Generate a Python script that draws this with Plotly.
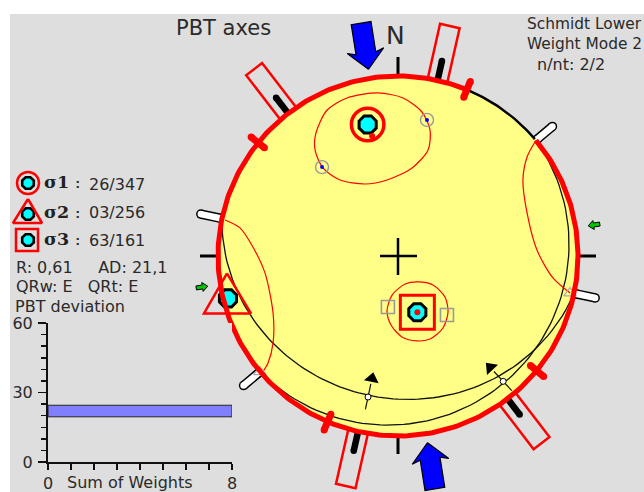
import numpy as np
import plotly.graph_objects as go

W, H = 644, 492
CX, CY, R = 398.0, 256.0, 180.0

# stress axes (trend / plunge)
axis_names = ["σ1", "σ2", "σ3"]
axis_trend = [347, 256, 161]
axis_plunge = [26, 3, 63]
axis_labels = ["26/347", "03/256", "63/161"]

# fault planes (dip direction / dip) and their slip lineations
fault_dipdir = [192, 140]
fault_dip = [22, 9]
lin_trend = [192, 140]
lin_plunge = [21, 10]
slip_az = [12, 317]

# perimeter symbols (azimuths)
strike_az = [282, 102, 50, 230]
shmax_az = [12.7, 322.4, 142.5, 192.8]
plane_tick_az = [22.5, 309, 129.6, 203]
compress_az = [351, 171]
extend_az = [81, 261]
black_arc_az = [22.5, 50]

# individual P, T, B axes, in net units (east, north)
p_e = [-0.422, 0.161]; p_n = [0.494, 0.756]
t_e = [-0.056, 0.272]; t_n = [-0.283, -0.328]
b_e = [0.956, -0.767]; b_n = [-0.206, -0.644]

# confidence contours in net units (east, north)
s1_e = [-.111, .028, .133, .178, .167, .078, -.061, -.183, -.322, -.417, -.461, -.456, -.394, -.283, -.111]
s1_n = [.906, .878, .80, .70, .589, .489, .422, .40, .422, .489, .589, .683, .811, .878, .906]
s3_e = [-.061, -.033, .039, .111, .194, .261, .278, .25, .178, .106, .022, -.039, -.061]
s3_n = [-.306, -.217, -.156, -.144, -.161, -.228, -.311, -.40, -.461, -.472, -.45, -.383, -.306]
s2a_e = [-.961, -.878, -.806, -.739, -.694, -.694, -.722, -.756]
s2a_n = [.20, .156, .05, -.094, -.317, -.483, -.594, -.65]
s2b_e = [.761, .717, .694, .717, .772, .861, .956]
s2b_n = [.633, .55, .422, .239, .033, -.122, -.206]
s1_mean_e = [-0.144]; s1_mean_n = [0.667]

# PBT deviation histogram
dev_center = [22]
dev_width = [5]
dev_weight = [8]

GRAY = "#dedede"; YEL = "#ffff88"; RED = "#ff0000"; CYAN = "#00ffff"; INK = "#2a2a2a"
FONT = "DejaVu Sans"


def proj(trend, plunge):
    t = np.radians(np.asarray(trend, float)); p = np.radians(np.asarray(plunge, float))
    r = np.sqrt(2) * np.sin((np.pi / 2 - p) / 2)
    return r * np.sin(t), r * np.cos(t)


def polar(az, r):
    a = np.radians(np.asarray(az, float))
    return np.asarray(r) * np.sin(a), np.asarray(r) * np.cos(a)


def nx(px):
    return (np.asarray(px, float) - CX) / R


def ny(py):
    return (CY - np.asarray(py, float)) / R


fig = go.Figure()


def line(x, y, color="black", width=1.0, shape="linear", smoothing=None):
    fig.add_trace(go.Scatter(x=x, y=y, mode="lines",
                             line=dict(color=color, width=width, shape=shape, smoothing=smoothing),
                             hoverinfo="skip", showlegend=False))


def poly(x, y, fill, color, width):
    fig.add_trace(go.Scatter(x=x, y=y, mode="lines", fill="toself", fillcolor=fill,
                             line=dict(color=color, width=width), hoverinfo="skip", showlegend=False))


def pts(x, y, symbol, size, color, lw=0, lc=None, angle=0):
    fig.add_trace(go.Scatter(x=x, y=y, mode="markers", hoverinfo="skip", showlegend=False,
                             marker=dict(symbol=symbol, size=size, color=color, angle=angle,
                                         line=dict(width=lw, color=lc or color))))


def rounded(az, r0, r1, color, width):
    x, y = polar([az, az], [r0, r1])
    fig.add_trace(go.Scatter(x=x, y=y, mode="lines+markers", line=dict(color=color, width=width),
                             marker=dict(size=width, color=color, symbol="circle"),
                             hoverinfo="skip", showlegend=False))


def radial_poly(az, rows, fill, color, width):
    """rows: (radius, signed half width in px)"""
    a = np.radians(az)
    u = np.array([np.sin(a), np.cos(a)]); v = np.array([np.cos(a), -np.sin(a)])
    xs = [u[0] * r + v[0] * w / R for r, w in rows]
    ys = [u[1] * r + v[1] * w / R for r, w in rows]
    poly(xs + xs[:1], ys + ys[:1], fill, color, width)


def tick(px0, py0, px1, py1, width=3):
    line([nx(px0), nx(px1)], [ny(py0), ny(py1)], "black", width)


# ---- elements outside the net ----
for az in shmax_az:
    radial_poly(az, [(1.0, -10), (1.31, -10), (1.31, 10), (1.0, 10)], "rgba(0,0,0,0)", RED, 2.5)
    rounded(az, 1.0, 1.11, "black", 6.5)
for az in strike_az:
    rounded(az, 1.01, 1.12, "black", 9.5)
    rounded(az, 1.01, 1.12, "white", 6.5)
tick(398, 57, 398, 76); tick(398, 437, 398, 454); tick(200, 256, 219, 256); tick(579, 256, 596, 256)
for az in compress_az:
    radial_poly(az, [(1.05, 0), (1.155, -18.5), (1.14, -10), (1.31, -10), (1.31, 10), (1.14, 10), (1.155, 18.5)],
                "#0000ff", "black", 1.2)
for az in extend_az:
    radial_poly(az, [(1.07, 0), (1.10, -4.5), (1.10, -2), (1.135, -2), (1.135, 2), (1.10, 2), (1.10, 4.5)],
                "#00c800", "black", 1)

# ---- the net ----
az_all = np.arange(0, 361, 1.0)
dx, dy = polar(az_all, 1.0)
poly(dx, dy, YEL, YEL, 0.5)

for dd, dip in zip(fault_dipdir, fault_dip):
    beta = np.arange(-90, 90.5, 2.0)
    pl = np.degrees(np.arctan(np.tan(np.radians(dip)) * np.cos(np.radians(beta))))
    gx, gy = proj(dd + beta, pl)
    line(gx, gy, "#111111", 1.3)

line(s1_e, s1_n, RED, 1.2, "spline", 0.8)
line(s3_e, s3_n, RED, 1.2, "spline", 0.8)
line(s2a_e, s2a_n, RED, 1.2, "spline", 0.8)
line(s2b_e, s2b_n, RED, 1.2, "spline", 0.8)

pts(p_e, p_n, "circle-open", 13, "#999999", 1.4)
pts(p_e, p_n, "circle", 4, "#0000ff")
pts(t_e, t_n, "square-open", 13, "#999999", 1.6)
pts(b_e, b_n, "triangle-up-open", 11, "#aaaaaa", 1.2)

# slip arrows on the lineations
lx, ly = proj(lin_trend, lin_plunge)
for x0, y0, az in zip(lx, ly, slip_az):
    ax, ay = polar(az, 1.0)
    line([x0 - 0.07 * ax, x0 + 0.075 * ax], [y0 - 0.07 * ay, y0 + 0.075 * ay], "#111111", 1.2)
    pts([x0 + 0.105 * ax], [y0 + 0.105 * ay], "triangle-up", 13, "black", angle=az)
pts(lx, ly, "circle", 6, "white", 1, "black")

# stress axes
sx, sy = proj(axis_trend, axis_plunge)
pts(sx, sy, "octagon", 18.5, CYAN, 3, "black")
pts(sx[:1], sy[:1], "circle-open", 32.5, RED, 3.5)
pts(sx[2:], sy[2:], "square-open", 34, RED, 3)
poly([sx[1] + nx(228) - nx(229), sx[1] + nx(205) - nx(229), sx[1] + nx(252) - nx(229), sx[1] + nx(228) - nx(229)],
     [sy[1] + ny(273) - ny(298), sy[1] + ny(313) - ny(298), sy[1] + ny(313) - ny(298), sy[1] + ny(273) - ny(298)],
     "rgba(0,0,0,0)", RED, 2.5)
pts(s1_mean_e, s1_mean_n, "circle", 6, RED)
pts(sx[2:], sy[2:], "circle", 6, RED)

# rim
rim_az = np.arange(black_arc_az[1], black_arc_az[0] + 360.5, 1.0)
rx, ry = polar(rim_az, 1.0)
line(rx, ry, RED, 5)
arc_az = np.arange(black_arc_az[0], black_arc_az[1] + 0.5, 1.0)
ax_, ay_ = polar(arc_az, 1.0)
line(ax_, ay_, "black", 2.5)
for az in plane_tick_az:
    rounded(az, 0.955, 1.05, RED, 7)

# centre cross
tick(380, 256, 417, 256, 2.5); tick(398, 238, 398, 275, 2.5)

# ---- legend glyphs ----
lg_y = [183, 214, 240]
pts(nx([28, 28, 28]), ny(lg_y), "octagon", 12.5, CYAN, 2.6, "black")
pts(nx([28]), ny([183]), "circle-open", 22, RED, 2.5)
poly(nx([28, 13, 42, 28]), ny([199, 223, 223, 199]), "rgba(0,0,0,0)", RED, 2.5)
pts(nx([27]), ny([240]), "square-open", 22, RED, 2.5)

# ---- histogram ----
fig.add_trace(go.Bar(y=dev_center, x=dev_weight, width=dev_width, orientation="h", xaxis="x2", yaxis="y2",
                     marker=dict(color="#8080ff", line=dict(color="#222222", width=1)),
                     hoverinfo="skip", showlegend=False))


def note(x, y, s, size=16, family=FONT, anchor="left", color=INK):
    fig.add_annotation(x=x / W, y=1 - y / H, xref="paper", yref="paper", text=s, showarrow=False,
                       xanchor=anchor, yanchor="middle", borderpad=0, borderwidth=0,
                       font=dict(size=size, family=family, color=color))


note(176, 28, "PBT axes", 21)
note(386, 35, "N", 25)
note(527, 24, "Schmidt Lower", 15.4)
note(527, 44, "Weight Mode 2", 15.4)
note(537, 64, "n/nt: 2/2")
for name, lab, y0, y1 in zip(axis_names, axis_labels, [182, 212, 239], [184, 213, 240]):
    note(44, y0, "<b>%s</b> :" % name, 17.5, "DejaVu Serif", color="#222222")
    note(89, y1, lab)
note(16, 267, "R: 0,61     AD: 21,1")
note(16, 286, "QRw: E   QRt: E")
note(15, 306, "PBT deviation")
note(129.5, 482, "Sum of Weights", anchor="center")

fig.update_layout(
    width=W, height=H, margin=dict(l=0, r=0, t=0, b=0, pad=0, autoexpand=False), autosize=False,
    paper_bgcolor="white", plot_bgcolor=GRAY, showlegend=False,
    xaxis=dict(domain=[10 / W, 1], range=[(10 - CX) / R, (W - CX) / R], visible=False, automargin=False),
    yaxis=dict(domain=[0, 1 - 14 / H], range=[(CY - H) / R, (CY - 14) / R], visible=False, automargin=False),
    xaxis2=dict(domain=[48 / W, 232 / W], range=[0, 8], anchor="y2", showgrid=False, zeroline=False, automargin=False,
                showline=True, linecolor="#111111", linewidth=2, ticks="outside", ticklen=6, tickwidth=1.5,
                tickcolor="#111111", tickvals=list(range(9)), ticktext=["0", "", "", "", "", "", "", "", "8"],
                tickfont=dict(family=FONT, size=16, color=INK)),
    yaxis2=dict(domain=[(H - 462) / H, (H - 323) / H], range=[0, 60], anchor="x2", showgrid=False, zeroline=False, automargin=False,
                showline=True, linecolor="#111111", linewidth=2, ticks="outside", ticklen=8, tickwidth=1.5,
                tickcolor="#111111", tickvals=[0, 30, 60], ticktext=["0", "30", "60"], ticklabelstandoff=2,
                minor=dict(tickvals=[5, 10, 15, 20, 25, 35, 40, 45, 50, 55], ticklen=5, tickwidth=1.5,
                           tickcolor="#111111", ticks="outside"),
                tickfont=dict(family=FONT, size=16, color=INK)),
)

fig.write_html("out.html", config=dict(displayModeBar=False, staticPlot=True),
               post_script="document.body.style.margin='0';document.documentElement.style.overflow='hidden';")
